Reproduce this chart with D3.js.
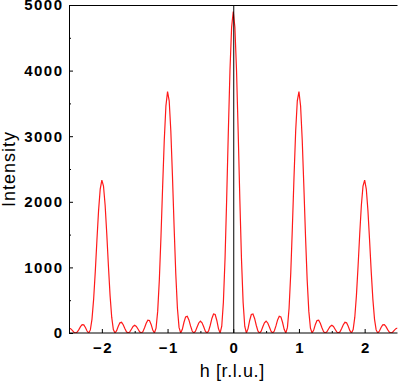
<!DOCTYPE html>
<html>
<head>
<meta charset="utf-8">
<script src="https://cdn.jsdelivr.net/npm/d3@7/dist/d3.min.js"></script>
<style>
  html, body { margin: 0; padding: 0; background: #fff; }
  svg { display: block; }
</style>
</head>
<body>
<svg id="chart" width="398" height="382"></svg>
<script>
// ---- data ----
const hValues = [
 -2.5,-2.475,-2.45,-2.425,-2.4,-2.375,-2.35,-2.325,-2.3,-2.275,-2.25,-2.225,-2.2,-2.175,-2.15,-2.125,-2.1,-2.075,-2.05,-2.025,
 -2.0,-1.975,-1.95,-1.925,-1.9,-1.875,-1.85,-1.825,-1.8,-1.775,-1.75,-1.725,-1.7,-1.675,-1.65,-1.625,-1.6,-1.575,-1.55,-1.525,
 -1.5,-1.475,-1.45,-1.425,-1.4,-1.375,-1.35,-1.325,-1.3,-1.275,-1.25,-1.225,-1.2,-1.175,-1.15,-1.125,-1.1,-1.075,-1.05,-1.025,
 -1.0,-0.975,-0.95,-0.925,-0.9,-0.875,-0.85,-0.825,-0.8,-0.775,-0.75,-0.725,-0.7,-0.675,-0.65,-0.625,-0.6,-0.575,-0.55,-0.525,
 -0.5,-0.475,-0.45,-0.425,-0.4,-0.375,-0.35,-0.325,-0.3,-0.275,-0.25,-0.225,-0.2,-0.175,-0.15,-0.125,-0.1,-0.075,-0.05,-0.025,
 0,
 0.025,0.05,0.075,0.1,0.125,0.15,0.175,0.2,0.225,0.25,0.275,0.3,0.325,0.35,0.375,0.4,0.425,0.45,0.475,0.5,
 0.525,0.55,0.575,0.6,0.625,0.65,0.675,0.7,0.725,0.75,0.775,0.8,0.825,0.85,0.875,0.9,0.925,0.95,0.975,1.0,
 1.025,1.05,1.075,1.1,1.125,1.15,1.175,1.2,1.225,1.25,1.275,1.3,1.325,1.35,1.375,1.4,1.425,1.45,1.475,1.5,
 1.525,1.55,1.575,1.6,1.625,1.65,1.675,1.7,1.725,1.75,1.775,1.8,1.825,1.85,1.875,1.9,1.925,1.95,1.975,2.0,
 2.025,2.05,2.075,2.1,2.125,2.15,2.175,2.2,2.225,2.25,2.275,2.3,2.325,2.35,2.375,2.4,2.425,2.45,2.475,2.5
];
const intensity = [
 76,66,40,12, 0,14,51,96, 126,123,84,30, 0,47,212,516, 936,1415,1865,2194,
 2331,2241,1947,1509, 1020,574,241,54, 0,36,104,155, 163,126,69,19, 0,17,58,99,
 117,101,61,19, 0,21,79,149, 196,191,131,46, 0,73,333,810, 1472,2227,2939,3460,
 3679,3539,3075,2384, 1612,907,382,85, 0,56,164,245, 256,199,108,30, 0,27,91,153,
 180,156,94,28, 0,32,118,222, 290,282,191,67, 0,104,471,1135, 2046,3063,3999,4659,
 4900,
 4659,3999,3063,2046, 1135,471,104,0, 67,191,282,290, 222,118,32,0, 28,94,156,180,
 153,91,27,0, 30,108,199,256, 245,164,56,0, 85,382,907,1612, 2384,3075,3539,3679,
 3460,2939,2227,1472, 810,333,73,0, 46,131,191,196, 149,79,21,0, 19,61,101,117,
 99,58,17,0, 19,69,126,163, 155,104,36,0, 54,241,574,1020, 1509,1947,2241,2331,
 2194,1865,1415,936, 516,212,47,0, 30,84,123,126, 96,51,14,0, 12,40,66,76
];
const xTicks = [-2, -1, 0, 1, 2];
const xMinorTicks = [-1.5, -0.5, 0.5, 1.5];
const yTicks = [0, 1000, 2000, 3000, 4000, 5000];
const yMinorTicks = [500, 1500, 2500, 3500, 4500];
const xDomain = [-2.5, 2.5];
const yDomain = [0, 5000];
const markerH = [0];
const xTitle = "h [r.l.u.]";
const yTitle = "Intensity";

// ---- layout ----
const W = 398, H = 382;
const M = { left: 69, right: 0.5, top: 5, bottom: 49 };
const svg = d3.select("#chart");

const x = d3.scaleLinear().domain(xDomain).range([M.left, W - M.right]);
const y = d3.scaleLinear().domain(yDomain).range([H - M.bottom, M.top]);

const pts = hValues.map((h, i) => ({ h, v: intensity[i] }));

svg.append("defs").append("clipPath").attr("id", "clip")
  .append("rect")
  .attr("x", M.left).attr("y", M.top - 2)
  .attr("width", W - M.right - M.left).attr("height", H - M.bottom - M.top + 2);

// curve
svg.append("path")
  .datum(pts)
  .attr("clip-path", "url(#clip)")
  .attr("fill", "none")
  .attr("stroke", "#ff1a1a")
  .attr("stroke-width", 1.2)
  .attr("d", d3.line().x(d => x(d.h)).y(d => y(d.v)));

// marker line at h = 0
svg.selectAll("line.marker").data(markerH).enter().append("line")
  .attr("class", "marker")
  .attr("x1", d => x(d) + 0.5).attr("x2", d => x(d) + 0.5)
  .attr("y1", y(yDomain[0])).attr("y2", y(yDomain[1]))
  .attr("stroke", "#000").attr("stroke-width", 1);

const font = "'Liberation Sans', Arial, Helvetica, sans-serif";

// axes
const xAxis = svg.append("g")
  .attr("transform", `translate(0,${y(0)})`)
  .call(d3.axisBottom(x).tickValues(xTicks).tickSize(-4).tickPadding(9)
        .tickFormat(d3.format("d")));
const xMinor = svg.append("g")
  .attr("transform", `translate(0,${y(0)})`)
  .call(d3.axisBottom(x).tickValues(xMinorTicks).tickSize(-2).tickFormat(""));

const yAxis = svg.append("g")
  .attr("transform", `translate(${M.left},0)`)
  .call(d3.axisLeft(y).tickValues(yTicks).tickSize(-4).tickPadding(7)
        .tickFormat(d3.format("d")));
const yMinor = svg.append("g")
  .attr("transform", `translate(${M.left},0)`)
  .call(d3.axisLeft(y).tickValues(yMinorTicks).tickSize(-2).tickFormat(""));

[xAxis, xMinor, yAxis, yMinor].forEach(g => {
  g.select(".domain").remove();
  g.selectAll(".tick line").attr("stroke", "#000").attr("stroke-width", 1);
});
[xAxis, yAxis].forEach(g => {
  g.selectAll(".tick text")
    .attr("fill", "#000")
    .style("font-family", font)
    .style("font-weight", "bold")
    .style("font-size", "15px")
    .style("letter-spacing", "1.5px");
});
yAxis.selectAll(".tick text").attr("dx", "1.5px");
xAxis.selectAll(".tick text").attr("dx", "0.75px");

// frame
const fx0 = M.left + 0.5, fx1 = W - M.right, fy0 = M.top + 0.5, fy1 = H - M.bottom + 0.5;
const frame = svg.append("g").attr("stroke", "#000").attr("stroke-width", 1).attr("fill", "none");
frame.append("line").attr("x1", fx0).attr("x2", fx0).attr("y1", fy0).attr("y2", fy1);
frame.append("line").attr("x1", fx0).attr("x2", fx1).attr("y1", fy1 - 0.5).attr("y2", fy1 - 0.5);
frame.append("line").attr("x1", fx0).attr("x2", fx1).attr("y1", fy0).attr("y2", fy0);

// titles
svg.append("text")
  .attr("x", (M.left + W - M.right) / 2 - 1)
  .attr("y", 377)
  .attr("text-anchor", "middle")
  .style("font-family", font)
  .style("font-size", "18px")
  .style("letter-spacing", "0.6px")
  .attr("fill", "#000")
  .text(xTitle);

svg.append("text")
  .attr("transform", `translate(15,${(M.top + H - M.bottom) / 2}) rotate(-90)`)
  .attr("text-anchor", "middle")
  .style("font-family", font)
  .style("font-size", "18px")
  .style("letter-spacing", "1px")
  .attr("fill", "#000")
  .text(yTitle);
</script>
</body>
</html>
